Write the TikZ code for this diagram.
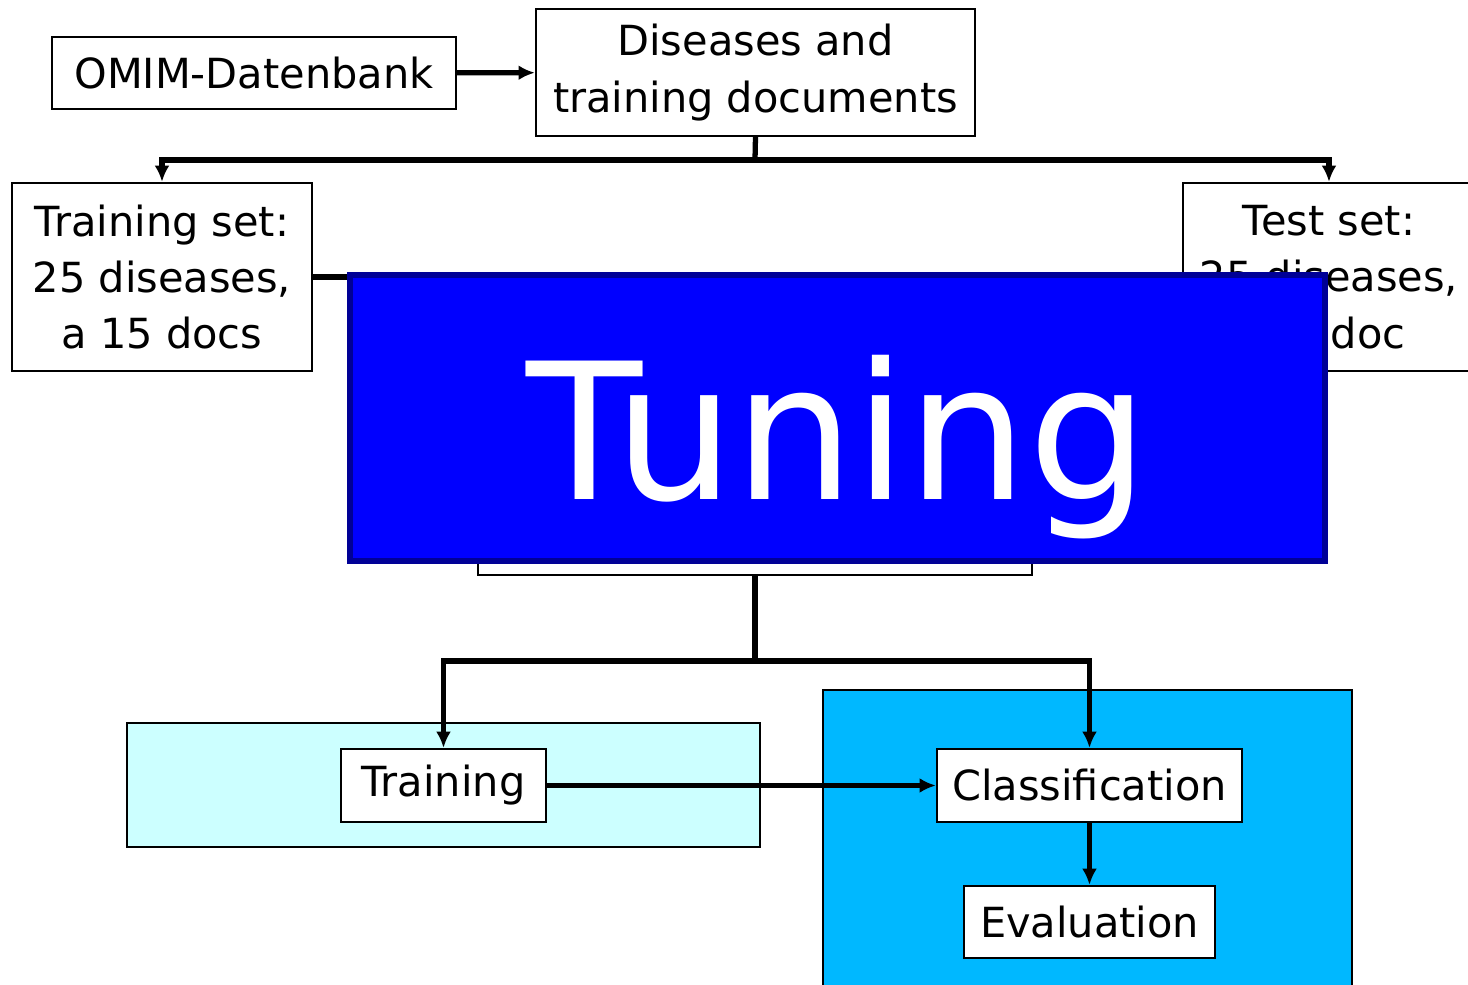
\documentclass[tikz,border=0pt]{standalone}
\usepackage{fontspec}
\usepackage{tikz}
\usepackage{xcolor}
\setmainfont{DejaVu Sans}
\usetikzlibrary{shapes,arrows.meta,positioning,calc}
\definecolor{tuneblue}{RGB}{0,0,255}
\definecolor{tuneedge}{RGB}{0,0,150}
\definecolor{trainbg}{RGB}{204,255,255}
\definecolor{testbg}{RGB}{0,184,255}

\tikzset{
    box/.style={draw, line width=0.6pt, fill=white, inner sep=0pt, align=center,
        font=\fontsize{11.8}{16}\selectfont},
    conn/.style={line width=1.5pt, -{Latex[length=4.6pt,width=4.2pt]}},
    link/.style={line width=1.5pt}
}

\begin{document}
\begin{tikzpicture}[x=0.01cm, y=-0.01cm]
    \clip (0,0) rectangle (1468,985);
    \fill[white] (0,0) rectangle (1468,985);

    % Background areas
    \draw[fill=trainbg, line width=0.6pt] (127,723) rectangle (760,847);
    \draw[fill=testbg, line width=0.6pt] (823,690) rectangle (1352,1010);

    % Top part
    \node[box, minimum width=4.04cm, minimum height=0.72cm] (omim) at (254,73) {OMIM-Datenbank};
    \node[box, minimum width=4.39cm, minimum height=1.27cm] (diseases) at (755.5,72.5)
        {Diseases and\\training documents};
    \node[box, minimum width=3.0cm, minimum height=1.88cm] (trainset) at (162,277)
        {Training set:\\25 diseases,\\a 15 docs};
    \node[box, minimum width=2.92cm, minimum height=1.88cm] (testset) at (1329,277)
        {Test set:\\25 diseases,\\a 1 doc};
    \node[box, minimum width=5.54cm, minimum height=1.75cm] (merged) at (755,487.5) {};

    % Bottom part
    \node[box, minimum width=2.05cm, minimum height=0.73cm] (training) at (443.5,785.5) {Training};
    \node[box, minimum width=3.05cm, minimum height=0.73cm] (classif) at (1089.5,785.5) {Classification};
    \node[box, minimum width=2.51cm, minimum height=0.72cm] (evaluation) at (1089.5,922) {Evaluation};

    % Connectors
    \coordinate (split1) at (755,160);
    \coordinate (split2) at (755,661);
    \coordinate (trainin) at (420,277);
    \coordinate (testin) at (1090,275);
    \draw[conn] (omim) -- (diseases);
    \draw[link] (diseases.south) -- (split1);
    \draw[conn] (split1) -| (trainset.north);
    \draw[conn] (split1) -| (testset.north);
    \draw[link] (trainset.east) -- (trainin);
    \draw[link] (testset.west |- testin) -- (testin);
    \draw[link] (merged.south) -- (split2);
    \draw[conn] (split2) -| (training.north);
    \draw[conn] (split2) -| (classif.north);
    \draw[conn] (training) -- (classif);
    \draw[conn] (classif) -- (evaluation);

    % Overlay
    \node[draw=tuneedge, fill=tuneblue, line width=1.8pt, minimum width=9.75cm, minimum height=2.86cm,
        text=white, font=\fontsize{54}{60}\selectfont, text height=1.62cm, text depth=0cm] (tuning)
        at (837.5,418) {Tuning};
\end{tikzpicture}
\end{document}
